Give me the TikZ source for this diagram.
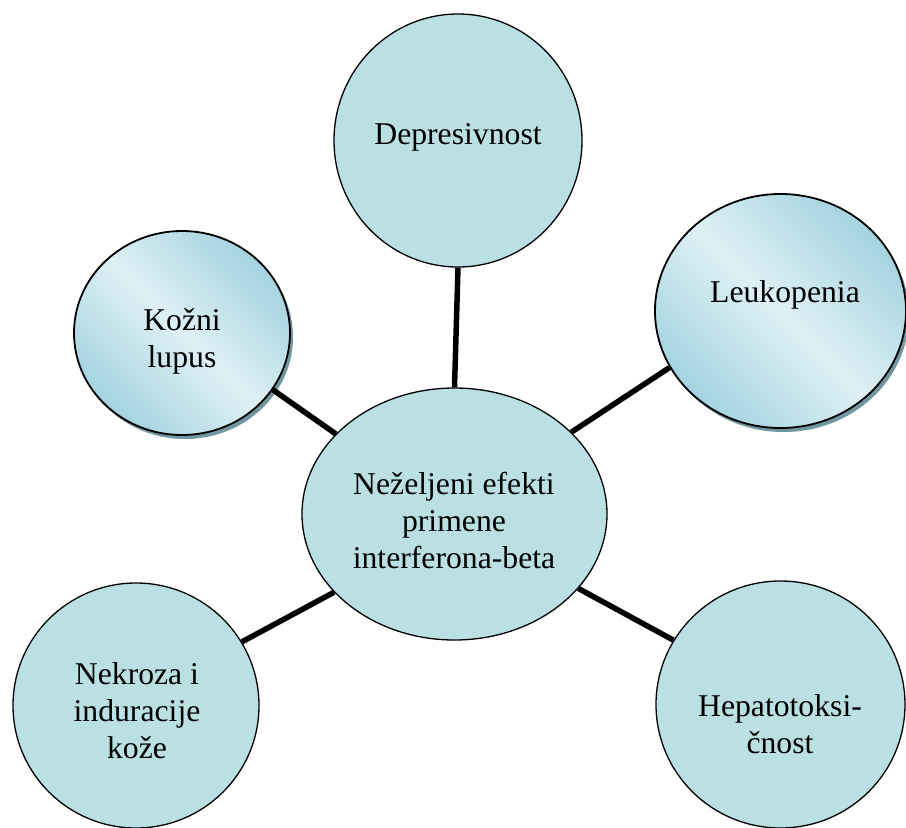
\documentclass[tikz,border=0pt]{standalone}
\usepackage{fontspec}
\setmainfont{Liberation Serif}
\usetikzlibrary{shapes.geometric,shadows}
\definecolor{flatfill}{RGB}{186,224,228}
\definecolor{gradlight}{RGB}{222,240,245}
\definecolor{graddark}{RGB}{164,211,223}
\definecolor{shadowcol}{RGB}{112,150,160}
\tikzset{
  flatcirc/.style={ellipse, draw=black, line width=1.3pt, fill=flatfill, inner sep=0pt},
  gradcirc/.style={ellipse, draw=black, line width=1.8pt, inner sep=0pt,
    top color=graddark, bottom color=graddark, middle color=gradlight, shading angle=-45,
    drop shadow={shadow xshift=3pt, shadow yshift=-4pt, fill=shadowcol, opacity=1}},
  conn/.style={line width=5.5pt, black},
  txt/.style={font=\fontsize{31.7}{37}\selectfont, inner sep=0pt, align=center, anchor=base}
}
\begin{document}
\begin{tikzpicture}[x=1pt,y=-1pt]
\useasboundingbox[fill=white] (0,0) rectangle (906,828);
% nodes
\node[flatcirc, minimum width=305pt, minimum height=252pt] (c) at (454.5,514) {};
\node[flatcirc, minimum width=248pt, minimum height=253pt] (dep) at (458,140.5) {};
\node[gradcirc, minimum width=216pt, minimum height=204pt] (koz) at (182,333) {};
\node[gradcirc, minimum width=251pt, minimum height=234pt] (leu) at (780.5,311) {};
\node[flatcirc, minimum width=246pt, minimum height=245pt] (nek) at (136,705.5) {};
\node[flatcirc, minimum width=249pt, minimum height=247pt] (hep) at (780.5,704.5) {};
% connectors
\draw[conn] (dep.south) -- (c.north);
\draw[conn] (koz.-32.4) -- (c.146.6);
\draw[conn] (leu.207.5) -- (c.35.1);
\draw[conn] (nek.31) -- (c.213);
\draw[conn] (hep.149.7) -- (c.-31.9);
% texts (base anchor = baseline of the last line)
\node[txt] (tc) at (454,568) {Neželjeni efekti\\primene\\interferona-beta};
\node[txt] (tdep) at (458,144) {Depresivnost};
\node[txt] (tkoz) at (182,367) {Kožni\\lupus};
\node[txt] (tleu) at (785,302) {Leukopenia};
\node[txt] (tnek) at (137,758) {Nekroza i\\induracije\\kože};
\node[txt] (thep) at (780,753) {Hepatotoksi-\\čnost};
\end{tikzpicture}
\end{document}
